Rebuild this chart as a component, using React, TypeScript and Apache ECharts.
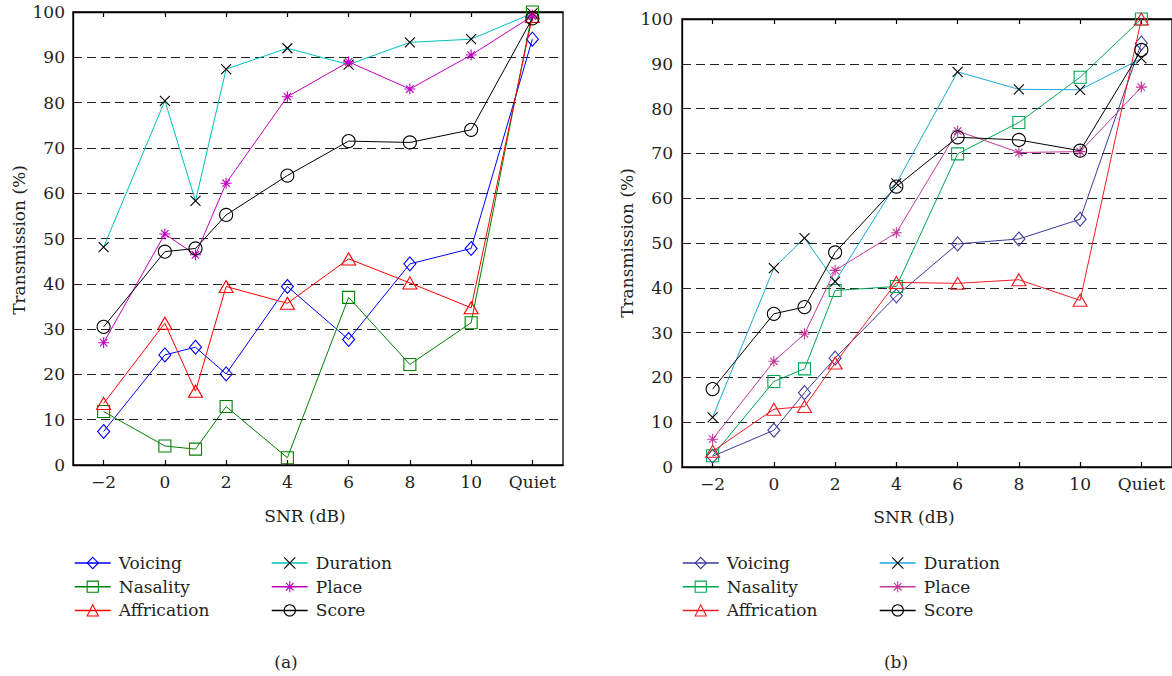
import { useEffect, useRef } from 'react';
import * as echarts from 'echarts';

// SNR positions (Quiet plotted at 12)
const SNR = [-2, 0, 1, 2, 4, 6, 8, 10, 12];
const TICK_SNR = [-2, 0, 2, 4, 6, 8, 10, 12];
const SERIES_NAMES = ['Voicing', 'Nasality', 'Affrication', 'Duration', 'Place', 'Score'];

// Panel (a)
const voicingA = [7.4, 24.3, 26.0, 20.1, 39.4, 27.7, 44.4, 47.8, 94.0];
const nasalityA = [11.8, 4.2, 3.5, 12.9, 1.6, 37.0, 22.2, 31.4, 100];
const affricationA = [13.6, 31.3, 16.3, 39.4, 35.7, 45.5, 40.2, 34.7, 99.0];
const durationA = [48.1, 80.4, 58.3, 87.4, 92.0, 88.4, 93.3, 94.0, 99.7];
const placeA = [27.0, 51.0, 46.4, 62.2, 81.3, 89.0, 83.0, 90.5, 99.1];
const scoreA = [30.5, 47.1, 47.8, 55.2, 63.9, 71.5, 71.2, 74.0, 98.6];

// Panel (b)
const voicingB = [2.4, 8.2, 16.6, 24.3, 38.2, 49.8, 50.9, 55.3, 94.6];
const nasalityB = [2.5, 19.1, 21.9, 39.4, 40.3, 69.9, 76.9, 87.0, 100];
const affricationB = [3.5, 12.9, 13.5, 23.2, 41.2, 41.0, 41.8, 37.2, 100];
const durationB = [11.1, 44.4, 51.1, 41.4, 63.3, 88.2, 84.3, 84.2, 91.2];
const placeB = [6.2, 23.6, 29.7, 43.9, 52.3, 75.0, 70.2, 70.4, 84.8];
const scoreB = [17.4, 34.2, 35.7, 47.9, 62.6, 73.6, 73.0, 70.6, 93.1];

const X_PATH = 'path://M0,0L10,10M10,0L0,10';
const STAR_PATH = 'path://M5,0L5,10M0,5L10,5M1.6,1.6L8.4,8.4M8.4,1.6L1.6,8.4';

const FONT = 'DejaVu Serif';
const TEXT_COLOR = '#231F20';

type Panel = {
  left: number;
  grid: { left: number; top: number; width: number; height: number };
  values: number[][];
  lineColors: string[];
  markerColors: string[];
  snrX: number;
  snrY: number;
  ylabX: number;
  ylabY: number;
  tag: string;
  tagX: number;
  legendLeft: [number, number];
  yLabelMargin: number;
};

const SYMBOLS = ['diamond', 'rect', 'triangle', X_PATH, STAR_PATH, 'circle'];
const SYMBOL_SIZES: any[] = [[12, 14], 12, [14, 12], 10, 11, 13];

const panels: Panel[] = [
  {
    left: 0,
    grid: { left: 73, top: 12, width: 490, height: 453 },
    values: [voicingA, nasalityA, affricationA, durationA, placeA, scoreA],
    lineColors: ['#0000FF', '#008000', '#FF0000', '#00BFBF', '#BF00BF', '#000000'],
    markerColors: ['#0000FF', '#008000', '#FF0000', '#000000', '#BF00BF', '#000000'],
    snrX: 305,
    snrY: 516,
    ylabX: 19,
    ylabY: 240,
    tag: '(a)',
    tagX: 286,
    legendLeft: [74, 271],
    yLabelMargin: 8,
  },
  {
    left: 586,
    grid: { left: 96, top: 19, width: 492, height: 448 },
    values: [voicingB, nasalityB, affricationB, durationB, placeB, scoreB],
    lineColors: ['#3B3B9B', '#00A651', '#ED1C24', '#1BA9D8', '#C2399B', '#000000'],
    markerColors: ['#3B3B9B', '#00A651', '#ED1C24', '#000000', '#C2399B', '#000000'],
    snrX: 328,
    snrY: 517,
    ylabX: 41,
    ylabY: 243,
    tag: '(b)',
    tagX: 310,
    legendLeft: [96, 293],
    yLabelMargin: 9,
  },
];

function fmtX(v: number) {
  if (v === 12) return 'Quiet';
  if (v < 0) return '\u2212' + Math.abs(v);
  return String(v);
}

function buildOption(p: Panel) {
  const series = SERIES_NAMES.map((name, i) => ({
    type: 'line',
    name,
    data: SNR.map((x, j) => [x, p.values[i][j]]),
    symbol: SYMBOLS[i],
    symbolSize: SYMBOL_SIZES[i],
    showSymbol: true,
    showAllSymbol: true,
    lineStyle: { color: p.lineColors[i], width: 1 },
    itemStyle: { color: 'rgba(0,0,0,0)', borderColor: p.markerColors[i], borderWidth: 1.1 },
    emphasis: { disabled: true },
    z: 2 + i,
  }));

  const legendBase = {
    orient: 'vertical',
    top: 553,
    padding: 0,
    itemWidth: 36,
    itemHeight: 14,
    itemGap: 3.7,
    selectedMode: false,
    textStyle: { fontFamily: FONT, fontSize: 17, color: TEXT_COLOR, lineHeight: 20, padding: [0, 0, 0, 3] },
  };

  const legendItem = (i: number) => ({
    name: SERIES_NAMES[i],
    lineStyle: { color: p.lineColors[i], width: 1.5, type: 'solid', opacity: 1 },
    itemStyle: { color: 'rgba(0,0,0,0)', borderColor: p.markerColors[i], borderWidth: 1.1 },
  });

  const xAxisBase = {
    type: 'value',
    gridIndex: 0,
    min: -3,
    max: 13,
    axisLine: { show: true, onZero: false, lineStyle: { color: '#000', width: 1.3 } },
    axisTick: { show: true, inside: true, length: 5, customValues: TICK_SNR, lineStyle: { color: '#000', width: 1.2 } },
    splitLine: { show: false },
  };

  const titleStyle = (text: string) => ({
    text,
    font: `17px '${FONT}', serif`,
    fill: TEXT_COLOR,
    align: 'center',
    verticalAlign: 'middle',
    textAlign: 'center',
    textVerticalAlign: 'middle',
  });

  return {
    animation: false,
    textStyle: { fontFamily: FONT },
    grid: [{ ...p.grid, show: true, borderColor: '#000', borderWidth: 1.3, backgroundColor: 'transparent' }],
    xAxis: [
      {
        ...xAxisBase,
        position: 'bottom',
        axisLabel: {
          show: true,
          customValues: TICK_SNR,
          formatter: (v: number) => fmtX(v),
          margin: 8,
          fontFamily: FONT,
          fontSize: 17,
          color: TEXT_COLOR,
        },
      },
      {
        ...xAxisBase,
        position: 'top',
        axisLabel: { show: false },
      },
    ],
    yAxis: [
      {
        type: 'value',
        min: 0,
        max: 100,
        interval: 10,
        position: 'left',
        axisLine: { show: true, onZero: false, lineStyle: { color: '#000', width: 1.3 } },
        axisTick: { show: false },
        axisLabel: { margin: p.yLabelMargin, fontFamily: FONT, fontSize: 17, color: TEXT_COLOR },
        splitLine: { show: true, lineStyle: { color: '#222', width: 1.2, type: [9, 5] } },
      },
    ],
    legend: [
      { ...legendBase, left: p.legendLeft[0], data: [0, 1, 2].map(legendItem) },
      { ...legendBase, left: p.legendLeft[1], data: [3, 4, 5].map(legendItem) },
    ],
    graphic: [
      { type: 'text', x: p.snrX, y: p.snrY, style: titleStyle('SNR (dB)') },
      { type: 'text', x: p.ylabX, y: p.ylabY, rotation: Math.PI / 2, style: titleStyle('Transmission (%)') },
      { type: 'text', x: p.tagX, y: 662, style: titleStyle(p.tag) },
    ],
    series,
  };
}

function PanelChart({ panel }: { panel: Panel }) {
  const ref = useRef<HTMLDivElement>(null);
  useEffect(() => {
    if (!ref.current) return;
    const chart = echarts.init(ref.current, undefined, { renderer: 'svg' });
    chart.setOption(buildOption(panel) as any);
    return () => chart.dispose();
  }, [panel]);
  return (
    <div
      ref={ref}
      style={{ position: 'absolute', left: panel.left, top: 0, width: 586, height: 676 }}
    />
  );
}

export default function App() {
  return (
    <div style={{ position: 'fixed', left: 0, top: 0, width: 1172, height: 676, background: '#fff', overflow: 'hidden' }}>
      {panels.map((p) => (
        <PanelChart key={p.tag} panel={p} />
      ))}
    </div>
  );
}
